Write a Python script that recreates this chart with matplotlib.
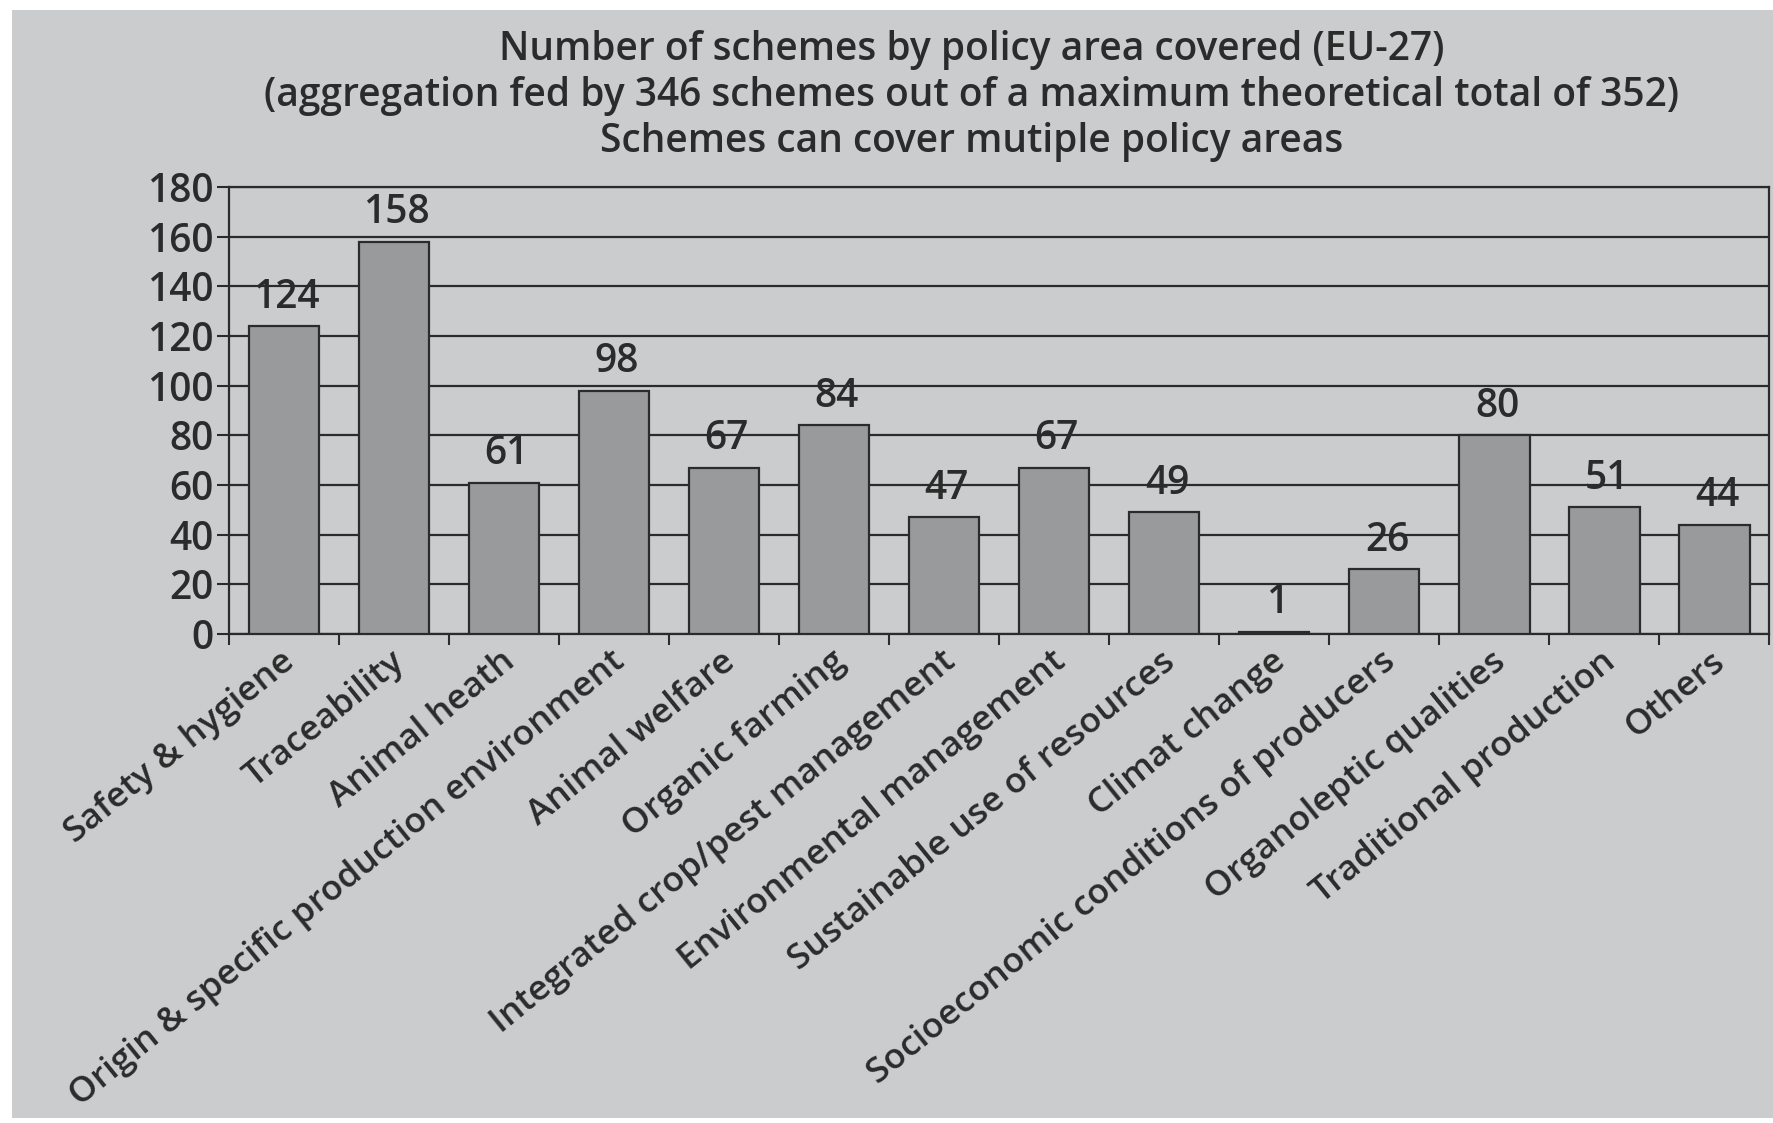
import numpy as np
import matplotlib
matplotlib.use("Agg")
import matplotlib.pyplot as plt
import matplotlib.transforms as mtransforms
from matplotlib.patches import Rectangle

# data
categories = [
    "Safety & hygiene", "Traceability", "Animal heath",
    "Origin & specific production environment", "Animal welfare",
    "Organic farming", "Integrated crop/pest management",
    "Environmental management", "Sustainable use of resources",
    "Climat change", "Socioeconomic conditions of producers",
    "Organoleptic qualities", "Traditional production", "Others",
]
counts = [124, 158, 61, 98, 67, 84, 47, 67, 49, 1, 26, 80, 51, 44]
y_ticks = [0, 20, 40, 60, 80, 100, 120, 140, 160, 180]
title_lines = [
    "Number of schemes by policy area covered (EU-27)",
    "(aggregation fed by 346 schemes out of a maximum theoretical total of 352)",
    "Schemes can cover mutiple policy areas",
]

BG = "#cbcccd"
BAR = "#999a9c"
DARK = "#2b2b2b"
WEIGHT = "semibold"

plt.rcParams["font.family"] = ["Open Sans", "DejaVu Sans"]

fig = plt.figure(figsize=(17.73, 11.23), dpi=100)
fig.patch.set_facecolor("white")
# grey panel with a thin white margin on the top, left and bottom
fig.patches.append(Rectangle((12 / 1773, 5 / 1123), 1 - 12 / 1773, 1 - 15 / 1123,
                             transform=fig.transFigure, facecolor=BG,
                             edgecolor="none", zorder=-10))

ax = fig.add_axes([0.129, 0.4354, 0.998 - 0.129, 0.8335 - 0.4354])
ax.set_facecolor(BG)

x = np.arange(len(categories))
ax.bar(x, counts, width=0.64, color=BAR, edgecolor=DARK, linewidth=1.6, zorder=3)

for xi, v in zip(x, counts):
    ax.annotate(str(v), (xi, v), xytext=(2, 6), textcoords="offset points",
                ha="center", va="bottom", fontsize=28, color=DARK,
                fontweight=WEIGHT, zorder=4)

ax.set_xlim(-0.5, len(categories) - 0.5)
ax.set_ylim(0, 180)
ax.set_yticks(y_ticks)
ax.tick_params(axis="y", length=9, width=1.5, color=DARK, labelsize=28,
               labelcolor=DARK, pad=2)
for lab in ax.get_yticklabels():
    lab.set_fontweight(WEIGHT)
ax.yaxis.grid(True, color=DARK, linewidth=1.6, zorder=1)
ax.set_axisbelow(True)

# labels under the bars, tick marks on the category boundaries
ax.set_xticks(x)
ax.set_xticklabels(categories, rotation=39, ha="right", va="center",
                   rotation_mode="anchor", fontsize=25.5, color=DARK,
                   fontweight=WEIGHT)
ax.tick_params(axis="x", which="major", length=0, pad=17)
shift = mtransforms.ScaledTranslation(7 / 100, 0, fig.dpi_scale_trans)
for lab in ax.get_xticklabels():
    lab.set_transform(lab.get_transform() + shift)
ax.set_xticks(np.arange(-0.5, len(categories)), minor=True)
ax.tick_params(axis="x", which="minor", length=8, width=1.5, color=DARK)

for side in ["left", "right", "top", "bottom"]:
    ax.spines[side].set_color(DARK)
    ax.spines[side].set_linewidth(1.6)

for line, yy in zip(title_lines, [0.9555, 0.9145, 0.8735]):
    fig.text(0.548, yy, line, ha="center", va="center", fontsize=28,
             color=DARK, fontweight=WEIGHT)

fig.savefig("out.png", dpi=100, facecolor=fig.get_facecolor())
